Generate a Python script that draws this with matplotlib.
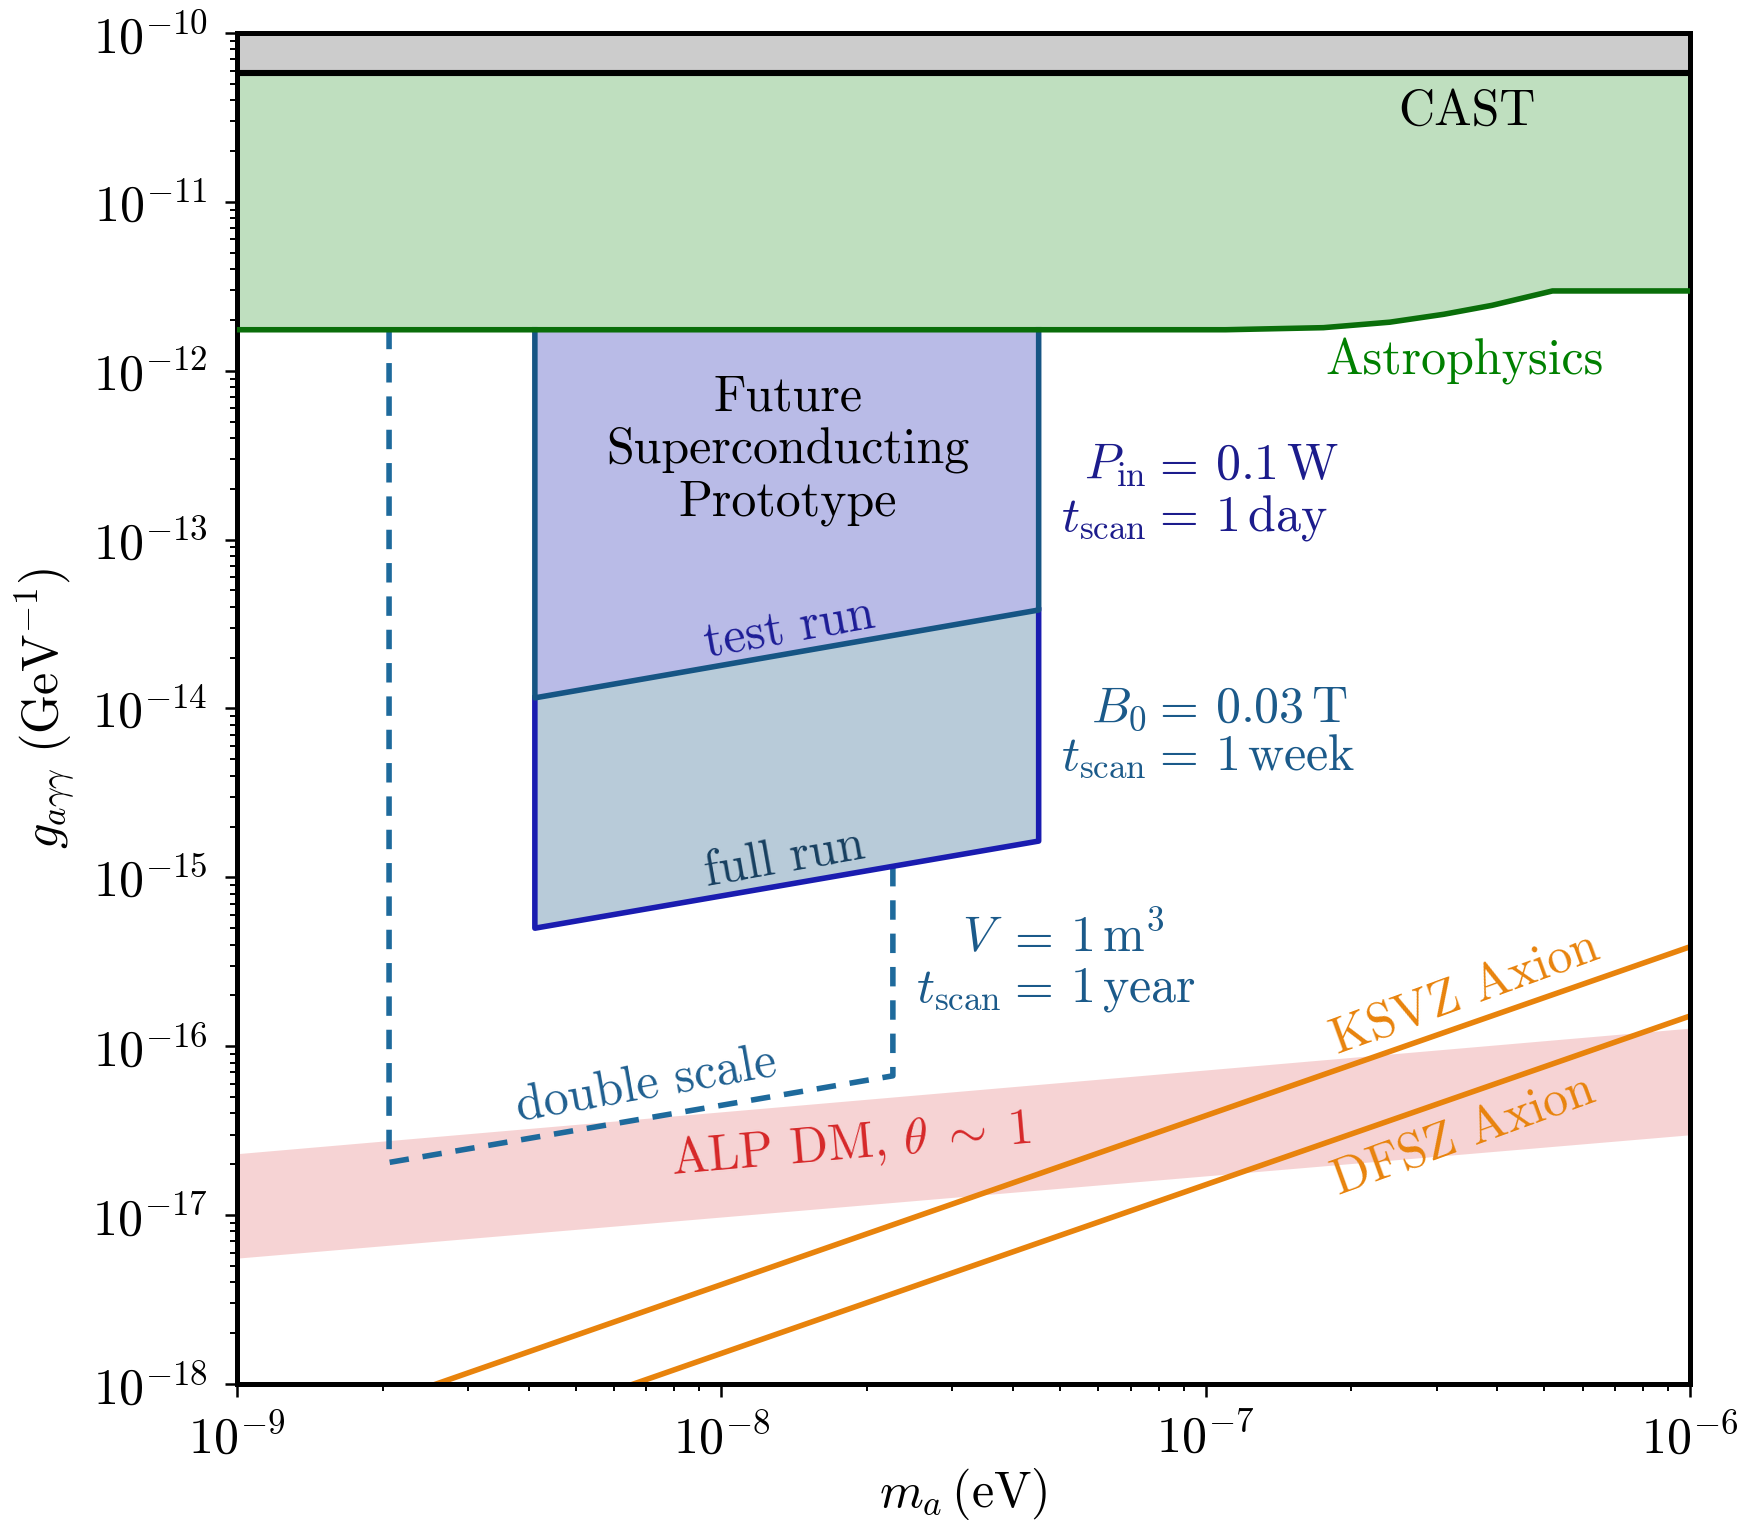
import numpy as np
import matplotlib
matplotlib.use('Agg')
import matplotlib.pyplot as plt

plt.rcParams['font.family'] = 'serif'
plt.rcParams['font.serif'] = ['cmr10']
plt.rcParams['mathtext.fontset'] = 'cm'
plt.rcParams['axes.formatter.use_mathtext'] = True
plt.rcParams['font.size'] = 18

# limits (m_a in eV, g in GeV^-1)
cast_g = 5.8e-11
astro_m = [1e-9, 1.1e-7, 1.75e-7, 2.4e-7, 3.1e-7, 3.9e-7, 5.2e-7, 1e-6]
astro_g = [1.75e-12, 1.75e-12, 1.8e-12, 1.94e-12, 2.16e-12, 2.44e-12, 2.97e-12, 2.97e-12]

# superconducting prototype
proto_m = [4.12e-9, 4.52e-8]
test_g = [1.156e-14, 3.83e-14]
full_g = [5.0e-16, 1.64e-15]
double_m = [2.06e-9, 2.26e-8]
double_g = [2.05e-17, 6.68e-17]

# ALP dark matter band
alp_m = [1e-9, 1e-6]
alp_lo = [5.56e-18, 2.99e-17]
alp_hi = [2.31e-17, 1.28e-16]

# QCD axion lines
ksvz_m = [2.58e-9, 1e-6]
ksvz_g = [1e-18, 3.88e-16]
dfsz_m = [6.59e-9, 1e-6]
dfsz_g = [1e-18, 1.51e-16]

c_test = '#1a1cb0'
c_full = '#165584'
c_dash = '#1e6a9c'
c_orange = '#e8830c'


def loginterp(x, xs, ys):
    return 10**np.interp(np.log10(x), np.log10(xs), np.log10(ys))


fig = plt.figure(figsize=(8.715, 7.615), dpi=200)
ax = fig.add_axes([0.136, 0.0913, 0.8336, 0.887])
ax.set_xscale('log')
ax.set_yscale('log')
ax.set_xlim(1e-9, 1e-6)
ax.set_ylim(1e-18, 1e-10)

# CAST
ax.fill_between([1e-9, 1e-6], cast_g, 1e-10, color='#cccccc', lw=0, zorder=1)
ax.plot([1e-9, 1e-6], [cast_g, cast_g], color='k', lw=2.2, zorder=3)

# astrophysics
ax.fill_between(astro_m, astro_g, cast_g, color='green', alpha=0.25, lw=0, zorder=1)
ax.plot(astro_m, astro_g, color='#0a6e0a', lw=2.0, zorder=6)

# ALP DM band
ax.fill_between(alp_m, alp_lo, alp_hi, color='tab:red', alpha=0.2, lw=0, zorder=1)

# KSVZ / DFSZ
ax.plot(ksvz_m, ksvz_g, color=c_orange, lw=2.0, zorder=2)
ax.plot(dfsz_m, dfsz_g, color=c_orange, lw=2.0, zorder=2)

# prototype regions
a1, a2 = loginterp(proto_m[0], astro_m, astro_g), loginterp(proto_m[1], astro_m, astro_g)
ax.fill([proto_m[0], proto_m[0], proto_m[1], proto_m[1]], [a1, full_g[0], full_g[1], a2],
        color=c_full, alpha=0.3, lw=0, zorder=4)
ax.fill([proto_m[0], proto_m[0], proto_m[1], proto_m[1]], [a1, test_g[0], test_g[1], a2],
        facecolor='#b9bbe7', lw=0, zorder=4)
ax.plot([proto_m[0], proto_m[0], proto_m[1], proto_m[1]], [test_g[0], full_g[0], full_g[1], test_g[1]],
        color=c_test, lw=2.0, zorder=5)
ax.plot([proto_m[0], proto_m[0], proto_m[1], proto_m[1]], [a1, test_g[0], test_g[1], a2],
        color=c_full, lw=2.0, zorder=5)

# double scale
d1 = loginterp(double_m[0], astro_m, astro_g)
d2 = loginterp(double_m[1], proto_m, full_g)
ax.plot([double_m[0], double_m[0], double_m[1], double_m[1]], [d1, double_g[0], double_g[1], d2],
        color=c_dash, lw=2.0, ls=(0, (3.5, 2.5)), zorder=3)

# labels
tr = ax.transAxes
ax.text(0.8465, 0.942, 'CAST', transform=tr, ha='center', va='center', color='k')
ax.text(0.845, 0.757, 'Astrophysics', transform=tr, ha='center', va='center', color='green')
ax.text(0.379, 0.691, 'Future\nSuperconducting\nPrototype', transform=tr, ha='center', va='center',
        linespacing=1.17, zorder=7)
ax.text(0.380, 0.558, 'test run', transform=tr, ha='center', va='center', rotation=10,
        color='#1c1c96', zorder=7)
ax.text(0.377, 0.389, 'full run', transform=tr, ha='center', va='center', rotation=10,
        color='#173f60', zorder=7)
ax.text(0.282, 0.2206, 'double scale', transform=tr, ha='center', va='center', rotation=10,
        color='#1f5f90')
ax.text(0.422, 0.177, r'ALP DM, $\theta\;\sim\;1$', transform=tr, ha='center', va='center',
        rotation=5, color='tab:red')
ax.text(0.845, 0.289, 'KSVZ Axion', transform=tr, ha='center', va='center', rotation=20,
        color=c_orange)
ax.text(0.8445, 0.1836, 'DFSZ Axion', transform=tr, ha='center', va='center', rotation=20,
        color=c_orange)

# parameter labels, aligned on the '=' sign
params = [
    (0.637, 0.670, r'$P_{\rm in}$', r'$0.1\,\mathrm{W}$', '#1c1c8c'),
    (0.637, 0.632, r'$t_{\rm scan}$', r'$1\,\mathrm{day}$', '#1c1c8c'),
    (0.637, 0.490, r'$B_0$', r'$0.03\,\mathrm{T}$', '#1b5a8a'),
    (0.637, 0.4545, r'$t_{\rm scan}$', r'$1\,\mathrm{week}$', '#1b5a8a'),
    (0.5375, 0.320, r'$V$', r'$1\,\mathrm{m}^3$', '#1b5a8a'),
    (0.5375, 0.283, r'$t_{\rm scan}$', r'$1\,\mathrm{year}$', '#1b5a8a'),
]
for x, y, lhs, rhs, col in params:
    ax.text(x - 0.011, y, lhs, transform=tr, ha='right', va='baseline', color=col)
    ax.text(x - 0.008, y, r'$=$', transform=tr, ha='left', va='baseline', color=col)
    ax.text(x + 0.036, y, rhs, transform=tr, ha='left', va='baseline', color=col)

ax.set_xlabel(r'$m_a\,(\mathrm{eV})$', labelpad=1)
ax.set_ylabel(r'$g_{a\gamma\gamma}\ (\mathrm{GeV}^{-1})$', labelpad=5)

for s in ax.spines.values():
    s.set_linewidth(1.8)
ax.tick_params(which='major', direction='out', length=4.5, width=0.9, pad=6)
ax.tick_params(which='minor', direction='out', length=2.5, width=0.7)
ax.set_xticks([1e-9, 1e-8, 1e-7, 1e-6])
ax.set_yticks([10.0**k for k in range(-18, -9)])

fig.savefig('out.png', dpi=200)
